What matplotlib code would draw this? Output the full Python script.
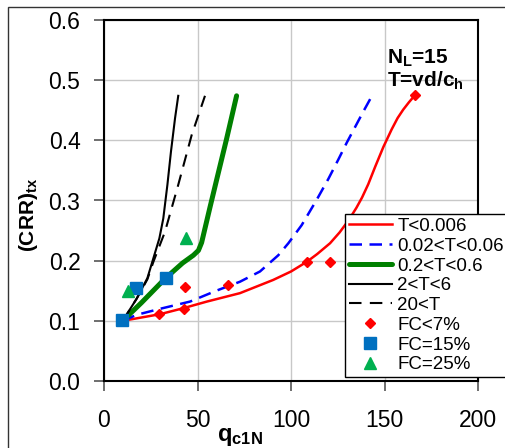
import matplotlib
matplotlib.use("Agg")
import matplotlib.pyplot as plt
from matplotlib.patches import Rectangle

plt.rcParams["font.family"] = ["Liberation Sans", "DejaVu Sans"]
plt.rcParams["mathtext.fontset"] = "custom"
plt.rcParams["mathtext.rm"] = "Liberation Sans"
plt.rcParams["mathtext.it"] = "Liberation Sans"
plt.rcParams["mathtext.bf"] = "Liberation Sans:bold"

# curves (q_c1N, CRR)
red_x = [10, 29.9, 42.4, 55, 72.7, 90.5, 100, 108.4, 114, 120.9, 126, 131, 135, 138, 141.3, 145, 149.4, 153.8, 157, 160, 163, 166]
red_y = [0.100, 0.111, 0.121, 0.132, 0.146, 0.168, 0.182, 0.198, 0.211, 0.229, 0.247, 0.268, 0.288, 0.305, 0.327, 0.356, 0.389, 0.418, 0.437, 0.451, 0.463, 0.474]

blue_x = [10, 17.5, 30, 46, 60, 72.7, 83.4, 93.2, 98.6, 105.7, 113.7, 120, 125.3, 129.8, 138.7, 143.3]
blue_y = [0.100, 0.110, 0.120, 0.132, 0.150, 0.165, 0.182, 0.209, 0.229, 0.259, 0.301, 0.336, 0.368, 0.396, 0.448, 0.474]

green_x = [10, 20, 32.6, 42, 47.8, 50.5, 52.2, 56.7, 60.2, 65.6, 70.9]
green_y = [0.100, 0.130, 0.170, 0.196, 0.209, 0.217, 0.230, 0.289, 0.334, 0.403, 0.474]

black_x = [10, 17.5, 23.2, 26.4, 29.6, 31.7, 33.9, 35.8, 38.0, 39.7]
black_y = [0.100, 0.137, 0.171, 0.204, 0.237, 0.270, 0.326, 0.381, 0.437, 0.474]

dash_x = [10, 17.5, 23.2, 26.4, 32.6, 39.7, 46.9, 54]
dash_y = [0.100, 0.137, 0.169, 0.198, 0.248, 0.326, 0.409, 0.474]

# test points
fc7_x = [29.6, 42.8, 43.5, 66.3, 108.3, 120.9, 166.5]
fc7_y = [0.112, 0.120, 0.157, 0.160, 0.198, 0.198, 0.475]
fc15_x = [9.8, 17.1, 33.0]
fc15_y = [0.101, 0.155, 0.172]
fc25_x = [13.0, 43.9]
fc25_y = [0.150, 0.238]

fig = plt.figure(figsize=(5.05, 4.48), dpi=100)
ax = fig.add_axes([104 / 505, 1 - 381 / 448, 374 / 505, 361 / 448])

ax.plot(red_x, red_y, color="#ff0000", lw=1.8, label="T<0.006")
ax.plot(blue_x, blue_y, color="#0000ff", lw=1.8, dashes=(5, 3), label="0.02<T<0.06")
ax.plot(green_x, green_y, color="#008000", lw=3.6, solid_capstyle="round",
        solid_joinstyle="round", label="0.2<T<0.6")
ax.plot(black_x, black_y, color="black", lw=1.5, label="2<T<6")
ax.plot(dash_x, dash_y, color="black", lw=1.5, dashes=(6, 4), label="20<T")
ax.plot(fc7_x, fc7_y, ls="none", marker="D", ms=5, color="#ff0000", label="FC<7%")
ax.plot(fc15_x, fc15_y, ls="none", marker="s", ms=8, color="#0070c0", label="FC=15%")
ax.plot(fc25_x, fc25_y, ls="none", marker="^", ms=8, color="#00b050", label="FC=25%")

ax.set_xlim(0, 200)
ax.set_ylim(0, 0.6)
ax.set_xticks([0, 50, 100, 150, 200])
ax.set_yticks([0, 0.1, 0.2, 0.3, 0.4, 0.5, 0.6])
ax.set_yticklabels(["0.0", "0.1", "0.2", "0.3", "0.4", "0.5", "0.6"])
ax.grid(True, color="#c8c8c8", lw=1)
ax.set_axisbelow(True)
for s in ax.spines.values():
    s.set_linewidth(1.5)
    s.set_color("black")
ax.tick_params(direction="out", length=7, width=1.2, color="#555555", labelsize=16.5)
ax.tick_params(axis="x", pad=13)
ax.tick_params(axis="y", pad=10)

ax.set_xlabel(r"$\mathbf{q_{c1N}}$", fontsize=17)
ax.xaxis.set_label_coords(0.364, -0.125)
ax.set_ylabel(r"$\mathbf{(CRR)_{tx}}$", fontsize=15)
ax.yaxis.set_label_coords(-0.17, 0.46)

ax.text(151.2, 0.528, r"$\mathbf{N_L}$=15", fontsize=15, fontweight="bold", va="baseline")
ax.text(151.2, 0.489, r"T=vd/$\mathbf{c_h}$", fontsize=15, fontweight="bold", va="baseline")

leg = ax.legend(loc="lower left", bbox_to_anchor=((345 - 104) / 374, (381 - 377) / 361),
                borderaxespad=0, fontsize=13.5, labelspacing=0.14, handlelength=2.3,
                handletextpad=0.3, borderpad=0.2, fancybox=False, framealpha=1)
leg.get_frame().set_edgecolor("black")
leg.get_frame().set_linewidth(1)

fig.patches.append(Rectangle((8 / 505, -0.1), 0.99, 1 - 7 / 448 + 0.1, transform=fig.transFigure,
                             fill=False, edgecolor="#333333", lw=1))

fig.savefig("out.png", dpi=100)
